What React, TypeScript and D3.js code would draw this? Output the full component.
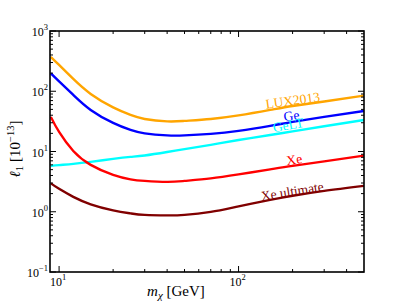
import { useEffect, useRef } from 'react';
import * as d3 from 'd3';

const masses = [9, 10, 12, 15, 20, 25, 30, 40, 50, 70, 100, 150, 200, 300, 500];
const lux2013 = [370.6, 273, 160, 90.2, 53.9, 40.5, 34.7, 31.6, 32.2, 34.7, 39.7, 49, 57, 67.7, 84.5];
const ge = [197.4, 145.4, 86.8, 49, 29.8, 22.8, 20.0, 18.5, 18.5, 19.6, 21.96, 26.6, 31, 37.5, 47.1];
const geLT = [5.77, 5.95, 6.23, 6.72, 7.54, 8.13, 8.59, 9.81, 10.96, 12.9, 15.5, 18.8, 21.6, 26.2, 33.4];
const xe = [37.5, 21.1, 10.2, 6.0, 4.09, 3.45, 3.25, 3.13, 3.25, 3.58, 4.17, 5.05, 5.77, 6.85, 8.55];
const xeUltimate = [2.96, 2.4, 1.77, 1.33, 1.055, 0.941, 0.888, 0.871, 0.888, 0.996, 1.23, 1.57, 1.84, 2.22, 2.69];

const seriesNames = ['LUX2013', 'Ge', 'GeLT', 'Xe', 'Xe ultimate'];
const seriesValues = [lux2013, ge, geLT, xe, xeUltimate];
const seriesColors = ['#ffa500', '#0000ff', '#00ffff', '#ff0000', '#800000'];
// label anchor in data coordinates [mass, value, rotation]
const labelPos = [
    [200, 71, -8],
    [197, 39.5, -8],
    [189, 27.6, -10],
    [204, 7.4, -8],
    [199, 2.2, -9],
];

const yTickExps = [-1, 0, 1, 2, 3];
const xTickExps = [1, 2];

const W = 405, H = 304;
const margin = { left: 50, right: 41, top: 31, bottom: 32 };

const App = () => {
    const ref = useRef(null);

    useEffect(() => {
        document.body.style.margin = '0';
        const svg = d3.select(ref.current);
        svg.selectAll('*').remove();
        svg.style('font-family', '"Liberation Serif", "DejaVu Serif", serif');

        const x = d3.scaleLog().domain([8.9, 500]).range([margin.left, W - margin.right]);
        const y = d3.scaleLog().domain([0.1, 1000]).range([H - margin.bottom, margin.top]);

        const x0 = margin.left, x1 = W - margin.right, y0 = H - margin.bottom, y1 = margin.top;

        svg.append('clipPath').attr('id', 'clip')
            .append('rect').attr('x', x0).attr('y', y1).attr('width', x1 - x0).attr('height', y0 - y1);

        const line = d3.line()
            .x(d => x(d[0]))
            .y(d => y(d[1]))
            .curve(d3.curveNatural);

        const curves = svg.append('g').attr('clip-path', 'url(#clip)');
        seriesValues.forEach((vals, i) => {
            curves.append('path')
                .datum(masses.map((m, j) => [m, vals[j]]))
                .attr('d', line)
                .attr('fill', 'none')
                .attr('stroke', seriesColors[i])
                .attr('stroke-width', 2.4);
        });

        // labels
        seriesNames.forEach((name, i) => {
            const [m, v, r] = labelPos[i];
            svg.append('text')
                .attr('transform', `translate(${x(m)},${y(v)}) rotate(${r})`)
                .attr('text-anchor', 'middle')
                .attr('dy', '0.35em')
                .attr('fill', seriesColors[i])
                .style('font-size', '13.5px')
                .text(name);
        });

        // ticks (inward, all four sides)
        const ticks = svg.append('g').attr('stroke', '#000').attr('stroke-width', 1);
        const yMinor = [];
        for (let e = -1; e < 3; e++) for (let k = 2; k <= 9; k++) yMinor.push(k * Math.pow(10, e));
        yMinor.forEach(v => {
            ticks.append('line').attr('x1', x0).attr('x2', x0 + 3).attr('y1', y(v)).attr('y2', y(v));
            ticks.append('line').attr('x1', x1).attr('x2', x1 - 3).attr('y1', y(v)).attr('y2', y(v));
        });
        yTickExps.forEach(e => {
            const v = Math.pow(10, e);
            ticks.append('line').attr('x1', x0).attr('x2', x0 + 6).attr('y1', y(v)).attr('y2', y(v));
            ticks.append('line').attr('x1', x1).attr('x2', x1 - 6).attr('y1', y(v)).attr('y2', y(v));
        });
        const xMinor = [20, 30, 40, 50, 60, 70, 80, 90, 200, 300, 400];
        xMinor.forEach(m => {
            ticks.append('line').attr('x1', x(m)).attr('x2', x(m)).attr('y1', y0).attr('y2', y0 - 3);
            ticks.append('line').attr('x1', x(m)).attr('x2', x(m)).attr('y1', y1).attr('y2', y1 + 3);
        });
        xTickExps.forEach(e => {
            const m = Math.pow(10, e);
            ticks.append('line').attr('x1', x(m)).attr('x2', x(m)).attr('y1', y0).attr('y2', y0 - 6);
            ticks.append('line').attr('x1', x(m)).attr('x2', x(m)).attr('y1', y1).attr('y2', y1 + 6);
        });

        // frame
        svg.append('rect')
            .attr('x', x0).attr('y', y1).attr('width', x1 - x0).attr('height', y0 - y1)
            .attr('fill', 'none').attr('stroke', '#000').attr('stroke-width', 1.6);

        // y tick labels
        yTickExps.forEach(e => {
            const t = svg.append('text')
                .attr('x', x0 - 2).attr('y', y(Math.pow(10, e)) + 5)
                .attr('text-anchor', 'end')
                .style('font-size', '12px');
            t.append('tspan').text('10');
            t.append('tspan').attr('dy', -6).style('font-size', '8.5px').text(e < 0 ? '\u2212' + Math.abs(e) : String(e));
        });

        // x tick labels
        xTickExps.forEach(e => {
            const t = svg.append('text')
                .attr('x', x(Math.pow(10, e)) - 1).attr('y', y0 + 14)
                .attr('text-anchor', 'middle')
                .style('font-size', '12px');
            t.append('tspan').text('10');
            t.append('tspan').attr('dy', -6).style('font-size', '8.5px').text(String(e));
        });

        // x axis title
        const xt = svg.append('text')
            .attr('x', 176).attr('y', 296)
            .attr('text-anchor', 'middle')
            .style('font-size', '15px');
        xt.append('tspan').style('font-style', 'italic').text('m');
        xt.append('tspan').attr('dy', 3).style('font-size', '11px').style('font-style', 'italic').text('\u03c7');
        xt.append('tspan').attr('dy', -3).text(' [GeV]');

        // y axis title
        const yt = svg.append('text')
            .attr('transform', `translate(20,149) rotate(-90)`)
            .attr('text-anchor', 'middle')
            .style('font-size', '15px');
        yt.append('tspan').style('font-style', 'italic').text('\u2113');
        yt.append('tspan').attr('dy', 3).style('font-size', '11px').text('1');
        yt.append('tspan').attr('dy', -3).text(' [10');
        yt.append('tspan').attr('dy', -6).style('font-size', '10.5px').text('\u221213');
        yt.append('tspan').attr('dy', 6).text(']');
    }, []);

    return <svg ref={ref} width={W} height={H} style={{ display: 'block' }} />;
};

export default App;
